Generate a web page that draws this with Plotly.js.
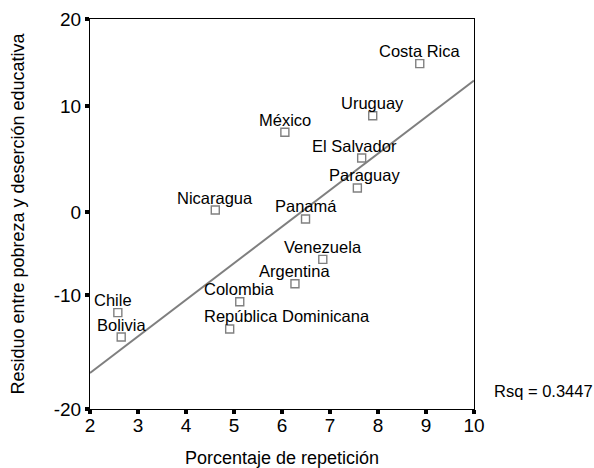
<!DOCTYPE html>
<html>
<head>
<meta charset="utf-8">
<script src="https://cdn.plot.ly/plotly-3.0.1.min.js"></script>
<style>html,body{margin:0;padding:0;background:#fff;}#chart{width:594px;height:468px;}</style>
</head>
<body>
<div id="chart"></div>
<script>
// Data
const countries = ["Costa Rica","Uruguay","México","El Salvador","Paraguay","Nicaragua","Panamá",
                   "Venezuela","Argentina","Colombia","Chile","Bolivia","República Dominicana"];
const repeticion = [8.87, 7.89, 6.06, 7.66, 7.57, 4.61, 6.49, 6.85, 6.27, 5.12, 2.58, 2.65, 4.91];
const residuo    = [15.42, 10.08, 8.38, 5.74, 2.67, 0.41, -0.51, -4.65, -7.15, -9.0, -10.12, -12.62, -11.79];
// fitted line endpoints as drawn
const fitX = [2, 10];
const fitY = [-16.3, 13.7];
const xTicks = [2, 3, 4, 5, 6, 7, 8, 9, 10];
// y tick labels and where they sit on the drawn scale
const yTickText = ["20", "10", "0", "-10", "-20"];
const yTickPos  = [20, 11.08, 0.21, -8.31, -20];
const rsqText = "Rsq = 0.3447";

// label placement tweaks (pixels)
const labelXShift = {"República Dominicana": 57, "Chile": -5, "Paraguay": 7, "El Salvador": -7};

const FONT = "Liberation Sans, Arial, sans-serif";

const traces = [
  {x: fitX, y: fitY, mode: "lines", line: {color: "#7f7f7f", width: 2}, hoverinfo: "skip"},
  {x: repeticion, y: residuo, mode: "markers", type: "scatter",
   marker: {symbol: "square-open", size: 8, color: "#808080", line: {width: 1.4, color: "#808080"}}}
];

const annotations = countries.map((c, i) => ({
  x: repeticion[i], y: residuo[i], xref: "x", yref: "y", text: c, showarrow: false,
  xanchor: "center", yanchor: "middle", yshift: 12.5, xshift: labelXShift[c] || 0,
  font: {family: FONT, size: 16.5, color: "#000"}
}));
annotations.push({
  x: 1.047, y: 0.046, xref: "paper", yref: "paper", text: rsqText, showarrow: false,
  xanchor: "left", yanchor: "middle", font: {family: FONT, size: 16.5, color: "#000"}
});

const layout = {
  width: 594, height: 468,
  margin: {l: 90, r: 120, t: 19, b: 59, pad: 0},
  paper_bgcolor: "#fff", plot_bgcolor: "#fff",
  showlegend: false,
  font: {family: FONT, color: "#000"},
  xaxis: {
    range: [2, 10], tickvals: xTicks, ticktext: xTicks.map(String),
    showgrid: false, zeroline: false, showline: true, linecolor: "#000", linewidth: 1, mirror: true,
    ticks: "outside", ticklen: 4, tickwidth: 4, tickcolor: "#000", ticklabelstandoff: -5,
    tickfont: {family: FONT, size: 19, color: "#000"},
    title: {text: "Porcentaje de repetición", font: {family: FONT, size: 18, color: "#000"}, standoff: 19}
  },
  yaxis: {
    range: [-20, 20], tickvals: yTickPos, ticktext: yTickText,
    showgrid: false, zeroline: false, showline: true, linecolor: "#000", linewidth: 1, mirror: true,
    ticks: "outside", ticklen: 4, tickwidth: 4, tickcolor: "#000",
    tickfont: {family: FONT, size: 19, color: "#000"},
    title: {text: "Residuo entre pobreza y deserción educativa", font: {family: FONT, size: 18, color: "#000"}, standoff: 24}
  },
  annotations: annotations
};

Plotly.newPlot("chart", traces, layout, {displayModeBar: false, staticPlot: true});
</script>
</body>
</html>
